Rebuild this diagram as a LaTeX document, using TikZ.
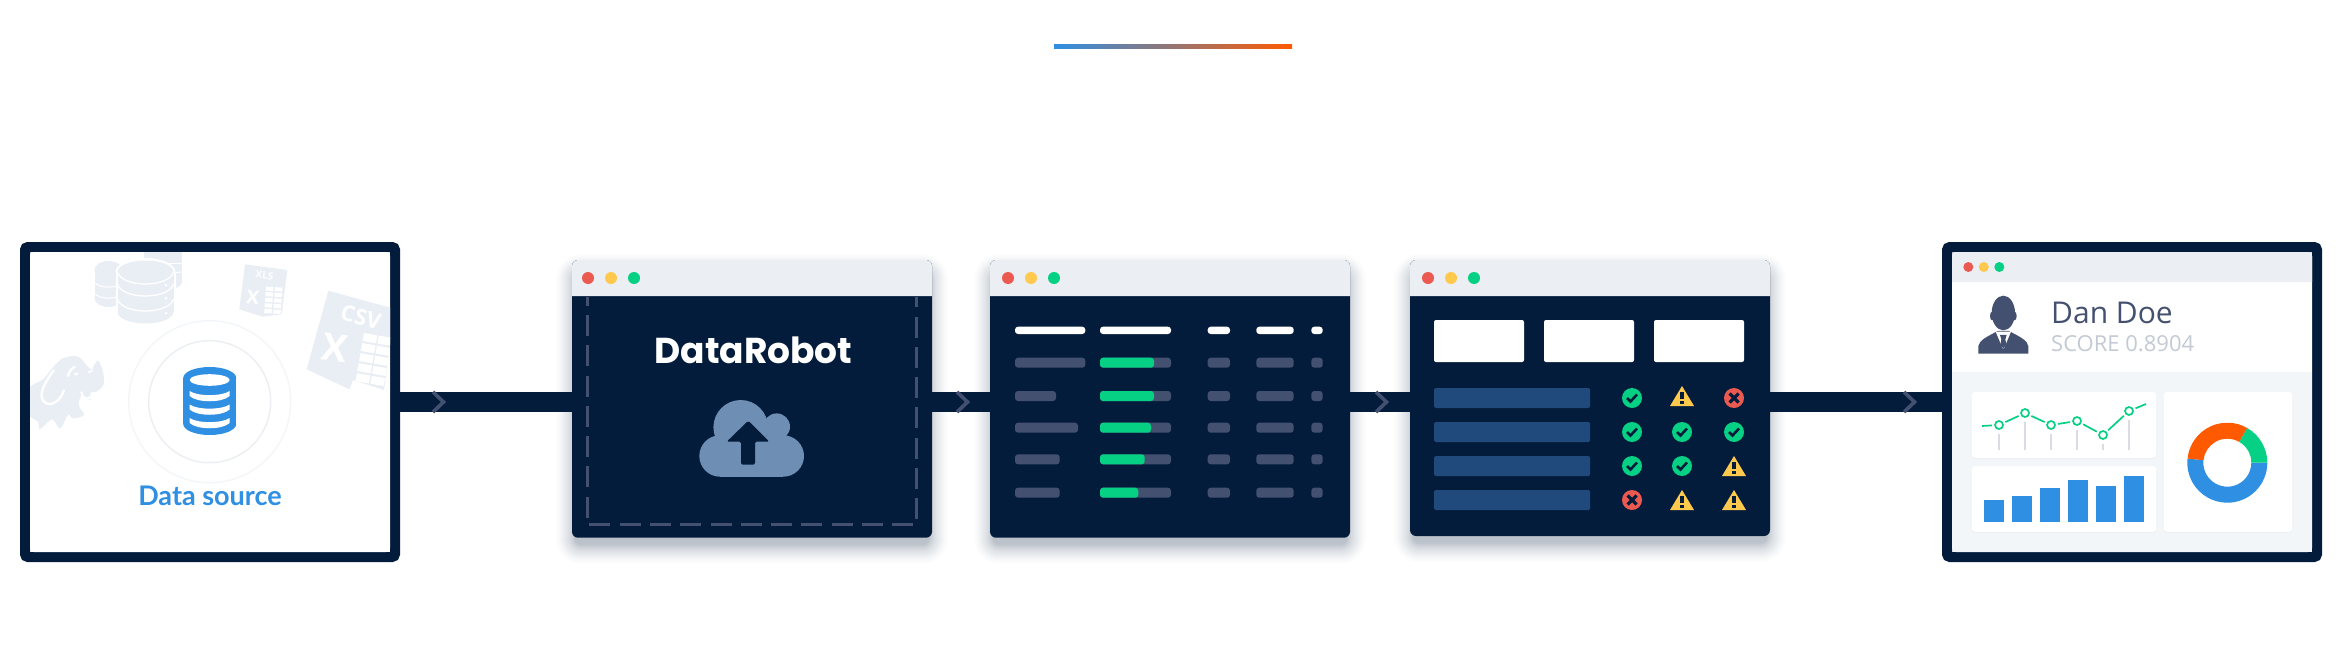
\documentclass[tikz,border=0pt]{standalone}
\usepackage{fontspec}
\setsansfont{Open Sans}
\newfontfamily\labelfont{Lato}
\newfontfamily\logofont{Poppins}
\usetikzlibrary{positioning}

\definecolor{navy}{HTML}{031C3C}
\definecolor{mute}{HTML}{44506F}
\definecolor{barblue}{HTML}{2F8FE3}
\definecolor{rowblue}{HTML}{214A7C}
\definecolor{cloudblue}{HTML}{6F8EB3}
\definecolor{watermark}{HTML}{E9EEF5}
\definecolor{titlegray}{HTML}{EBEEF2}
\definecolor{panelgray}{HTML}{F3F6F9}
\definecolor{scoregray}{HTML}{C3CAD4}
\definecolor{stemgray}{HTML}{D9DDE3}
\definecolor{dotred}{HTML}{EB5A50}
\definecolor{dotyellow}{HTML}{FFC94D}
\definecolor{dotgreen}{HTML}{05D083}
\definecolor{sliceorange}{HTML}{FF5A00}

\tikzset{
    framebox/.style={draw=navy, line width=10pt, rounded corners=3pt, minimum width=370pt, minimum height=310pt},
    panebox/.style={fill=navy, rounded corners=6pt, minimum width=360pt, outer sep=0pt},
    titlebar/.style={fill=titlegray},
    link/.style={draw=navy, line width=20pt},
    chevron/.style={draw=mute, line width=3.6pt},
    dashedge/.style={draw=mute, line width=2.8pt, dash pattern=on 21pt off 9.3pt},
    headbar/.style={fill=white, rounded corners=3pt},
    mutebar/.style={fill=mute, rounded corners=3pt},
    greenbar/.style={fill=dotgreen, rounded corners=3pt},
    rowbar/.style={fill=rowblue, rounded corners=1.5pt},
    tile/.style={fill=white, rounded corners=2pt},
    cardbox/.style={fill=white, rounded corners=3pt},
    chartdot/.style={circle, draw=dotgreen, line width=1.7pt, fill=white, minimum size=8pt, inner sep=0pt, outer sep=3pt},
    chartline/.style={draw=dotgreen, line width=1.7pt},
    stem/.style={draw=stemgray, line width=2pt, shorten <=2pt},
    glyphline/.style={draw=navy, line cap=butt},
}

\begin{document}
\begin{tikzpicture}[font=\sffamily, x=1pt, y=-1pt]
    \useasboundingbox (0,0) rectangle (2342,656);

    % ==========================================
    % MACROS
    % ==========================================
    % Soft shadow: #1,#2 = top left, #3,#4 = bottom right, #5 = opacity factor
    \newcommand{\softshadow}[5]{
        \foreach \k in {1,...,20} {
            \pgfmathsetmacro{\layeropacity}{#5*(1/\k+0.1)}
            \fill [navy, opacity=\layeropacity, rounded corners=\k+5] (#1+4-\k, #2+14-\k) rectangle (#3-4+\k, #4+6+\k);
        }
    }

    % Window: #1 = name, #2 = left x, #3 = bottom y, #4 = x of first dot
    \newcommand{\drawpane}[4]{
        \softshadow{#2}{260}{#2+360}{#3}{0.06}
        \node [panebox, minimum height=#3pt-260pt] (#1) at (#2+180, {(260+#3)/2}) {};
        \fill [titlebar] (#2,296) [rounded corners=6pt] -- (#2,260) -- (#2+360,260) [sharp corners] -- (#2+360,296) -- cycle;
        \foreach \dotcol [count=\n from 0] in {dotred,dotyellow,dotgreen} {
            \fill [\dotcol] (#4+23*\n, 278) circle [radius=6];
        }
    }

    % Status icons: #1,#2 = centre
    \newcommand{\iconok}[2]{
        \fill [dotgreen] (#1,#2) circle [radius=10];
        \draw [glyphline, line width=2.6pt] (#1-5,#2) -- (#1-1.5,#2+3.5) -- (#1+5,#2-3.5);
    }
    \newcommand{\iconbad}[2]{
        \fill [dotred] (#1,#2) circle [radius=10];
        \draw [glyphline, line width=3.2pt] (#1-4.5,#2-4.5) -- (#1+4.5,#2+4.5);
        \draw [glyphline, line width=3.2pt] (#1-4.5,#2+4.5) -- (#1+4.5,#2-4.5);
    }
    \newcommand{\iconwarn}[2]{
        \fill [dotyellow] (#1,#2-10) -- (#1+12,#2+10) -- (#1-12,#2+10) -- cycle;
        \fill [navy] (#1-1.7,#2-4) rectangle (#1+1.7,#2+3);
        \fill [navy] (#1-1.7,#2+4.5) rectangle (#1+1.7,#2+8);
    }

    % Background cylinder: #1 = centre x, #2 = top y, #3 = bottom y, #4 = rx, #5 = ry
    \newcommand{\drumshape}[5]{
        \fill (#1,#2) ellipse [x radius=#4, y radius=#5];
        \fill (#1-#4,#2) rectangle (#1+#4,#3);
        \fill (#1,#3) ellipse [x radius=#4, y radius=#5];
    }

    % ==========================================
    % ACCENT LINE
    % ==========================================
    \fill [left color=barblue, right color=sliceorange] (1054,44) rectangle (1292,48);

    % ==========================================
    % DATA SOURCE
    % ==========================================
    \softshadow{24}{240}{396}{548}{0.009}
    \node [framebox, fill=white] (source) at (210,402) {};
    \fill [white, rounded corners=4pt] (30,252) rectangle (390,552);

    \begin{scope}
        \clip [rounded corners=4pt] (30,252) rectangle (390,552);
        % Database stack
        \begin{scope}[watermark]
            \drumshape{108.5}{270}{298}{14}{9}
            \drumshape{163}{253}{282}{19}{8}
        \end{scope}
        \draw [white, line width=1pt] (145,263) -- (182,263);
        \draw [white, line width=1pt] (145,275) -- (182,272);
        \draw [white, line width=1pt] (95,283) .. controls (100,288) and (112,288) .. (122,285);
        \draw [white, line width=1pt] (95,294) .. controls (100,299) and (112,299) .. (122,296);
        \fill [white] (145.5,272) ellipse [x radius=30, y radius=14];
        \fill [white] (115.5,272) rectangle (175.5,312);
        \fill [white] (145.5,312) ellipse [x radius=30, y radius=13];
        \begin{scope}[watermark]
            \drumshape{145.5}{272}{312}{28}{11.5}
        \end{scope}
        \draw [white, line width=1.3pt] (117.5,272) .. controls (122,288) and (169,288) .. (173.5,272);
        \draw [white, line width=1.3pt] (117.5,284) .. controls (122,300) and (169,300) .. (173.5,284);
        \draw [white, line width=1.3pt] (117.5,299) .. controls (122,315) and (169,315) .. (173.5,299);
        \foreach \py in {285,298,313} {
            \fill [white] (166,\py) circle [radius=1.5];
        }

        % XLS sheet
        \fill [watermark] (245,264.3) -- (287.3,270) -- (281.7,314.3) -- (263,316.7) -- (239.3,309.3) -- cycle;
        \node [white, font=\sffamily\bfseries\fontsize{10}{12}\selectfont, rotate=-8] (xlsname) at (264.5,275.5) {XLS};
        \node [white, font=\sffamily\bfseries\fontsize{19}{22}\selectfont, rotate=-6] (xlsmark) at (253,297) {X};
        \begin{scope}[shift={(266,286.5)}, rotate=-4]
            \foreach \cx in {0,9} {
                \foreach \cy in {0,5.6,11.2,16.8,22.4} {
                    \fill [white] (\cx,\cy) rectangle (\cx+7.5,\cy+4);
                }
            }
        \end{scope}

        % CSV sheet
        \fill [watermark] (328.3,290.7) -- (395,309) -- (384,390) -- (353,380) -- (349.3,389.3) -- (306.7,369.3) -- cycle;
        \node [white, font=\sffamily\bfseries\fontsize{22}{26}\selectfont, rotate=-14] (csvname) at (361,317) {CSV};
        \node [white, font=\sffamily\bfseries\fontsize{38}{44}\selectfont, rotate=-8] (csvmark) at (335,348) {X};
        \begin{scope}[shift={(364,333)}, rotate=-10]
            \foreach \cx in {0,15} {
                \foreach \cy in {0,10.2,20.4,30.6,40.8} {
                    \fill [white] (\cx,\cy) rectangle (\cx+13.5,\cy+8);
                }
            }
        \end{scope}

        % Elephant
        \begin{scope}[shift={(28,350)}, scale=0.3333]
            \fill [watermark] plot [smooth cycle, tension=0.55] coordinates {
                (0,118) (45,88) (75,52) (105,25) (150,20) (188,58) (200,42) (212,33) (226,70)
                (226,105) (205,125) (187,128) (186,150) (162,135) (152,165) (168,195) (135,205)
                (120,195) (96,235) (72,208) (36,238) (30,215) (0,190)};
            \draw [white, line width=2.4pt] (78,60) .. controls (48,100) and (30,135) .. (48,155) .. controls (68,175) and (100,150) .. (108,120);
            \draw [white, line width=2.4pt] (120,80) .. controls (122,65) and (130,55) .. (142,50);
            \fill [white] (145,72) ellipse [x radius=7, y radius=4];
            \draw [white, line width=1.6pt] (180,68) -- (195,60);
            \draw [white, line width=2.2pt] (160,125) .. controls (165,150) and (180,150) .. (186,140);
        \end{scope}
    \end{scope}

    % Rings and database icon
    \draw [panelgray, line width=1.4pt] (209.7,401.7) circle [radius=81];
    \draw [titlegray, line width=1.4pt] (209.7,401.7) circle [radius=61];
    \begin{scope}[barblue]
        \drumshape{209.7}{378}{424}{26.5}{11}
    \end{scope}
    \fill [white] (209.7,380) ellipse [x radius=20, y radius=5.8];
    \foreach \py in {391,404.5,418} {
        \fill [white] (189.7,\py) .. controls (197,\py+5.5) and (222,\py+5.5) .. (229.7,\py)
            -- (229.7,\py+5) .. controls (222,\py+12) and (197,\py+12) .. (189.7,\py+5) -- cycle;
    }
    \node [anchor=base, text=barblue, font=\labelfont\bfseries\fontsize{27}{30}\selectfont] (sourcelabel) at (210,505) {Data source};

    % ==========================================
    % PANES
    % ==========================================
    \drawpane{upload}{572}{537.7}{588}
    \drawpane{listing}{990}{537.7}{1008}
    \drawpane{checks}{1410}{536}{1428}

    % ------ Upload ------
    \draw [dashedge] (587.3,517.7) -- (587.3,297);
    \draw [dashedge] (589.3,524.3) -- (913,524.3);
    \draw [dashedge] (916.7,519.3) -- (916.7,297);
    \node [anchor=base, text=white, font=\logofont\bfseries\fontsize{36}{42}\selectfont] (logo) at (753.5,363.3) {DataRobot};

    \fill [cloudblue] (740.7,427.3) circle [radius=27.3];
    \fill [cloudblue] (776.7,426.7) circle [radius=13.3];
    \fill [cloudblue] (720,456) circle [radius=20.7];
    \fill [cloudblue] (783.3,456) circle [radius=20.7];
    \fill [cloudblue] (720,436) rectangle (783.3,476.7);
    \fill [navy, rounded corners=1.5pt] (748.3,420.7) -- (769.3,441.7) -- (755,441.7) -- (755,464.7) -- (741,464.7) -- (741,441.7) -- (726.7,441.7) -- cycle;

    % ------ Listing ------
    \foreach \x/\xx in {1015/1085.3,1100/1171,1207.7/1230,1256.3/1293.7,1311.3/1322.7} {
        \fill [headbar] (\x,326.7) rectangle (\xx,334);
    }
    \foreach \ytop/\nameend/\fillend in {357.7/1085.3/1154,391/1056/1154,422.7/1078/1151,454.3/1059.7/1144.7,487.7/1059.7/1138.3} {
        \fill [mutebar] (1015,\ytop) rectangle (\nameend,\ytop+10);
        \fill [mutebar] (1100,\ytop) rectangle (1171,\ytop+10);
        \fill [greenbar] (1100,\ytop) rectangle (\fillend,\ytop+10);
        \foreach \x/\xx in {1207.7/1230,1256.3/1293.7,1311.3/1322.7} {
            \fill [mutebar] (\x,\ytop) rectangle (\xx,\ytop+10);
        }
    }

    % ------ Checks ------
    \foreach \x in {1434,1544,1654} {
        \fill [tile] (\x,320) rectangle (\x+90,362);
    }
    \foreach \ytop in {388,422,456,490} {
        \fill [rowbar] (1434,\ytop) rectangle (1590,\ytop+20);
    }
    \foreach \x/\y in {1632/398,1632/432,1682/432,1734/432,1632/466,1682/466} {
        \iconok{\x}{\y}
    }
    \foreach \x/\y in {1682/396,1734/466,1682/500,1734/500} {
        \iconwarn{\x}{\y}
    }
    \foreach \x/\y in {1734/398,1632/500} {
        \iconbad{\x}{\y}
    }

    % ==========================================
    % PROFILE
    % ==========================================
    \softshadow{1946}{240}{2318}{548}{0.009}
    \node [framebox, fill=panelgray] (profile) at (2132,402) {};
    \fill [panelgray, rounded corners=4pt] (1952,252) rectangle (2312,552);
    \fill [white] (1952,282) rectangle (2312,372);
    \fill [titlebar] (1952,282) [rounded corners=4pt] -- (1952,252) -- (2312,252) [sharp corners] -- (2312,282) -- cycle;
    \foreach \dotcol [count=\n from 0] in {dotred,dotyellow,dotgreen} {
        \fill [\dotcol] (1968.3+15.5*\n, 267) circle [radius=5];
    }

    % Person
    \begin{scope}[shift={(1900,220)}, scale=0.3333]
        \fill [mute] (235,401) -- (235,378) .. controls (238,360) and (262,350) .. (293,333)
            -- (327,333) .. controls (358,350) and (382,360) .. (385,378) -- (385,401) -- cycle;
        \fill [white] (287,335) -- (333,335) -- (312,385) -- (308,385) -- cycle;
        \fill [mute] (300,345) -- (320,345) -- (316,358) -- (319,374) -- (310,385) -- (301,374) -- (304,358) -- cycle;
        \fill [mute] (310,279) ellipse [x radius=35, y radius=52];
        \fill [mute] (276,288) ellipse [x radius=6, y radius=13];
        \fill [mute] (344,288) ellipse [x radius=6, y radius=13];
    \end{scope}
    \node [anchor=base west, inner sep=0pt, text=mute, font=\sffamily\fontsize{30}{36}\selectfont] (username) at (2051,323) {Dan Doe};
    \node [anchor=base west, inner sep=0pt, text=scoregray, font=\sffamily\fontsize{22}{26}\selectfont] (userscore) at (2051,351) {SCORE 0.8904};

    % Cards
    \foreach \xa/\ya/\xb/\yb in {1972/392/2156/458,1972/466/2156/532,2164/392/2292/532} {
        \fill [titlegray, rounded corners=3pt] (\xa,\ya+1.2) rectangle (\xb,\yb+1.2);
        \fill [cardbox] (\xa,\ya) rectangle (\xb,\yb);
    }

    % Line chart
    \foreach \px/\py/\n in {1999/425/1,2025/413/2,2051/425/3,2077/421/4,2103/435/5,2129/411/6} {
        \node [chartdot] (p\n) at (\px,\py) {};
        \draw [stem] (p\n.south) -- (p\n.south |- 0,450);
    }
    \coordinate (chartstart) at (1982,426);
    \coordinate (chartend) at (2146,404);
    \draw [chartline] (chartstart) -- (p1);
    \foreach \a/\b in {p1/p2,p2/p3,p3/p4,p4/p5,p5/p6} {
        \draw [chartline] (\a) -- (\b);
    }
    \draw [chartline] (p6) -- (chartend);

    % Bar chart
    \foreach \x/\ytop in {1984/500,2012/496,2040/488,2068/480,2096/486,2124/476} {
        \fill [barblue] (\x,\ytop) rectangle (\x+20,522);
    }

    % Donut
    \begin{scope}[shift={(2227.3,462.7)}]
        \foreach \a/\b/\slice in {0/186/barblue,186/300/sliceorange,300/360/dotgreen} {
            \fill [\slice] (\a:40) arc [start angle=\a, end angle=\b, radius=40]
                -- (\b:24) arc [start angle=\b, end angle=\a, radius=24] -- cycle;
        }
    \end{scope}

    % ==========================================
    % CONNECTORS
    % ==========================================
    \foreach \a/\b in {source/upload,upload/listing,listing/checks,checks/profile} {
        \draw [link] (\a.east |- source) -- (\b.west |- source);
    }
    \foreach \x in {433,957,1376,1904} {
        \draw [chevron] (\x,392) -- (\x+10.5,402) -- (\x,412);
    }

\end{tikzpicture}
\end{document}
